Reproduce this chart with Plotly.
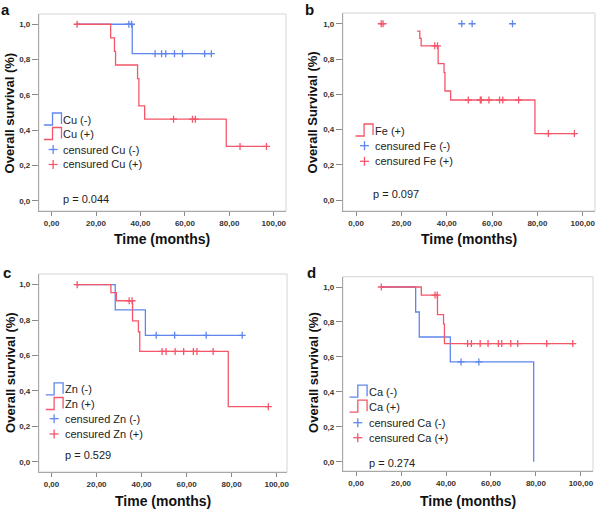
import plotly.graph_objects as go

# ---------------- data ----------------
# Panel a: Cu
cu_neg_t = [11.0, 36.3, 72.0]
cu_neg_s = [1.0, 0.833, 0.833]
cu_neg_cens_t = [34.8, 36.0, 46.6, 49.5, 51.4, 55.3, 58.9, 68.9, 71.9]
cu_neg_cens_s = [1.0, 1.0, 0.833, 0.833, 0.833, 0.833, 0.833, 0.833, 0.833]
cu_pos_t = [11.0, 26.6, 28.3, 28.8, 38.7, 39.3, 41.9, 78.6, 96.7]
cu_pos_s = [1.0, 0.923, 0.846, 0.769, 0.692, 0.538, 0.462, 0.308, 0.308]
cu_pos_cens_t = [11.5, 54.9, 63.4, 64.7, 84.8, 96.7]
cu_pos_cens_s = [1.0, 0.462, 0.462, 0.462, 0.308, 0.308]

# Panel b: Fe
fe_neg_cens_t = [46.6, 51.2, 69.0]
fe_neg_cens_s = [1.0, 1.0, 1.0]
fe_pos_t = [26.9, 28.1, 28.7, 36.2, 38.8, 39.2, 41.7, 78.9, 96.3]
fe_pos_s = [0.958, 0.917, 0.875, 0.774, 0.723, 0.619, 0.568, 0.378, 0.378]
fe_pos_cens_t = [11.1, 11.9, 34.7, 35.9, 49.5, 54.8, 55.2, 58.6, 63.3, 64.7, 71.7, 84.8, 96.3]
fe_pos_cens_s = [1.0, 1.0, 0.875, 0.875, 0.568, 0.568, 0.568, 0.568, 0.568, 0.568, 0.568, 0.378, 0.378]

# Panel c: Zn
zn_neg_t = [11.0, 28.3, 41.7, 84.7]
zn_neg_s = [1.0, 0.857, 0.714, 0.714]
zn_neg_cens_t = [46.5, 54.7, 68.7, 84.7]
zn_neg_cens_s = [0.714, 0.714, 0.714, 0.714]
zn_pos_t = [11.0, 26.4, 28.8, 36.0, 38.6, 39.2, 78.5, 96.3]
zn_pos_s = [1.0, 0.955, 0.909, 0.795, 0.734, 0.623, 0.311, 0.311]
zn_pos_cens_t = [11.4, 34.5, 35.8, 49.1, 50.9, 54.9, 58.7, 63.0, 64.6, 71.8, 96.3]
zn_pos_cens_s = [1.0, 0.909, 0.909, 0.623, 0.623, 0.623, 0.623, 0.623, 0.623, 0.623, 0.311]

# Panel d: Ca
ca_neg_t = [11.0, 26.5, 28.1, 41.9, 79.0]
ca_neg_s = [1.0, 0.857, 0.714, 0.571, 0.0]
ca_neg_cens_t = [46.7, 54.6]
ca_neg_cens_s = [0.571, 0.571]
ca_pos_t = [11.0, 29.0, 36.2, 38.9, 39.3, 96.4]
ca_pos_s = [1.0, 0.954, 0.842, 0.788, 0.676, 0.676]
ca_pos_cens_t = [11.2, 35.1, 36.1, 49.6, 51.3, 55.2, 58.7, 63.3, 64.8, 68.8, 71.9, 84.8, 96.4]
ca_pos_cens_s = [1.0, 0.954, 0.954, 0.676, 0.676, 0.676, 0.676, 0.676, 0.676, 0.676, 0.676, 0.676, 0.676]

p_values = ["p = 0.044", "p = 0.097", "p = 0.529", "p = 0.274"]
panel_letters = ["a", "b", "c", "d"]
y_titles = ["Overall survival (%)", "Overall Survival (%)", "Overall survival (%)", "Overall survival (%)"]
x_title = "Time (months)"
x_tick_vals = [0, 20, 40, 60, 80, 100]
x_tick_text = ["0,00", "20,00", "40,00", "60,00", "80,00", "100,00"]
y_tick_vals = [0.0, 0.2, 0.4, 0.6, 0.8, 1.0]
y_tick_text = ["0,0", "0,2", "0,4", "0,6", "0,8", "1,0"]

# ---------------- styling ----------------
W, H = 600, 510
BLUE = "#5f86ee"
RED = "#f4566a"
FONT = "Liberation Sans, Arial, sans-serif"
TXT = "#222222"


def X(px):
    return px / W


def Y(py):
    return 1 - py / H


panels = [
    dict(dom=(39, 287, 14, 211), xr=[-5.7, 105.5], yr=[-0.058, 1.058]),
    dict(dom=(344, 597, 13, 211), xr=[-5.84, 105.4], yr=[-0.061, 1.061]),
    dict(dom=(39, 288, 274, 472), xr=[-5.6, 104.6], yr=[-0.058, 1.06]),
    dict(dom=(344, 595, 276.7, 471), xr=[-5.9, 105.4], yr=[-0.053, 1.059]),
]

curves = [
    [(cu_neg_t, cu_neg_s, BLUE), (cu_pos_t, cu_pos_s, RED)],
    [(fe_pos_t, fe_pos_s, RED)],
    [(zn_neg_t, zn_neg_s, BLUE), (zn_pos_t, zn_pos_s, RED)],
    [(ca_neg_t, ca_neg_s, BLUE), (ca_pos_t, ca_pos_s, RED)],
]
censors = [
    [(cu_neg_cens_t, cu_neg_cens_s, BLUE), (cu_pos_cens_t, cu_pos_cens_s, RED)],
    [(fe_neg_cens_t, fe_neg_cens_s, BLUE), (fe_pos_cens_t, fe_pos_cens_s, RED)],
    [(zn_neg_cens_t, zn_neg_cens_s, BLUE), (zn_pos_cens_t, zn_pos_cens_s, RED)],
    [(ca_neg_cens_t, ca_neg_cens_s, BLUE), (ca_pos_cens_t, ca_pos_cens_s, RED)],
]

legends = [
    [("step", BLUE, "Cu (-)", 61.7, 119.5, 44, 52.7, 61.7),
     ("step", RED, "Cu (+)", 61.7, 134, 44, 52.7, 61.7),
     ("cross", BLUE, "censured Cu (-)", 61.7, 149.5, 53.3, None, None),
     ("cross", RED, "censured Cu (+)", 61.7, 164.5, 53.3, None, None)],
    [("step", RED, "Fe (+)", 374.3, 130.5, 356.7, 365.3, 374.3),
     ("cross", BLUE, "censured Fe (-)", 374.3, 145.7, 365.7, None, None),
     ("cross", RED, "censured Fe (+)", 374.3, 161.3, 365.7, None, None)],
    [("step", BLUE, "Zn (-)", 63.3, 389.3, 46, 54.3, 63.3),
     ("step", RED, "Zn (+)", 63.3, 404, 46, 54.3, 63.3),
     ("cross", BLUE, "censured Zn (-)", 63.3, 418.7, 54.3, None, None),
     ("cross", RED, "censured Zn (+)", 63.3, 434, 54.3, None, None)],
    [("step", BLUE, "Ca (-)", 368.3, 391.7, 350.7, 359, 368.3),
     ("step", RED, "Ca (+)", 368.3, 406.7, 350.7, 359, 368.3),
     ("cross", BLUE, "censured Ca (-)", 368.3, 422.7, 359, None, None),
     ("cross", RED, "censured Ca (+)", 368.3, 437.7, 359, None, None)],
]
p_pos = [(61.7, 199), (372.7, 194), (63.3, 455), (368.3, 463.3)]
letter_pos = [(6, 9), (311, 9), (7.5, 272), (312.5, 272)]
ytitle_pos = [(10, 112.5), (313.5, 112), (10, 372), (314, 372)]
xtitle_y = [239, 239, 500.5, 500.5]

fig = go.Figure()
layout = dict(
    width=W, height=H, margin=dict(l=0, r=0, t=0, b=0),
    paper_bgcolor="white", plot_bgcolor="white", showlegend=False,
    shapes=[], annotations=[],
)

for i, pnl in enumerate(panels):
    n = "" if i == 0 else str(i + 1)
    xa, ya = "x" + n, "y" + n
    x0, x1, yt, yb = pnl["dom"]
    layout["xaxis" + n] = dict(
        domain=[X(x0), X(x1)], range=pnl["xr"], anchor=ya,
        tickvals=x_tick_vals, ticktext=x_tick_text,
        ticks="outside", ticklen=4, tickwidth=1, tickcolor="#8a8a8a",
        showline=True, linecolor="#a8a8a8", linewidth=1, mirror=False,
        showgrid=False, zeroline=False,
        tickfont=dict(family=FONT, size=8, color="#333333", weight="bold"),
    )
    layout["yaxis" + n] = dict(
        domain=[Y(yb), Y(yt)], range=pnl["yr"], anchor=xa,
        tickvals=y_tick_vals, ticktext=y_tick_text,
        ticks="outside", ticklen=6, tickwidth=1, tickcolor="#8a8a8a",
        showline=True, linecolor="#a8a8a8", linewidth=1, mirror=False,
        showgrid=False, zeroline=False,
        tickfont=dict(family=FONT, size=8, color="#333333", weight="bold"),
    )
    layout["shapes"].append(dict(
        type="rect", xref=xa + " domain", yref=ya + " domain",
        x0=0, x1=1, y0=0, y1=1, line=dict(color="#d4d4d4", width=1),
        layer="below"))

    for t, s, c in curves[i]:
        fig.add_trace(go.Scatter(
            x=t, y=s, mode="lines", line=dict(color=c, width=1.3, shape="hv"),
            xaxis=xa, yaxis=ya, hoverinfo="skip"))
    for t, s, c in censors[i]:
        fig.add_trace(go.Scatter(
            x=t, y=s, mode="markers",
            marker=dict(symbol="cross-thin", size=5, line=dict(color=c, width=1.3)),
            xaxis=xa, yaxis=ya, hoverinfo="skip"))

    for kind, c, label, tx, cy, ix0, istep, ix1 in legends[i]:
        if kind == "step":
            lo, hi = cy + 5.5, cy - 6.5
            path = (f"M {X(ix0)} {Y(lo)} L {X(istep)} {Y(lo)} L {X(istep)} {Y(hi)} "
                    f"L {X(ix1)} {Y(hi)} L {X(ix1)} {Y(lo - 1)}")
            layout["shapes"].append(dict(
                type="path", xref="paper", yref="paper", path=path,
                line=dict(color=c, width=1.3)))
        else:
            layout["shapes"].append(dict(
                type="line", xref="paper", yref="paper",
                x0=X(ix0 - 4.5), x1=X(ix0 + 4.5), y0=Y(cy), y1=Y(cy),
                line=dict(color=c, width=1.3)))
            layout["shapes"].append(dict(
                type="line", xref="paper", yref="paper",
                x0=X(ix0), x1=X(ix0), y0=Y(cy - 4.5), y1=Y(cy + 4.5),
                line=dict(color=c, width=1.3)))
        layout["annotations"].append(dict(
            x=X(tx), y=Y(cy), xref="paper", yref="paper", text=label,
            showarrow=False, xanchor="left", yanchor="middle",
            font=dict(family=FONT, size=11, color=TXT)))

    px_, py_ = p_pos[i]
    layout["annotations"].append(dict(
        x=X(px_), y=Y(py_), xref="paper", yref="paper", text=p_values[i],
        showarrow=False, xanchor="left", yanchor="middle",
        font=dict(family=FONT, size=11, color=TXT)))
    lx, ly = letter_pos[i]
    layout["annotations"].append(dict(
        x=X(lx), y=Y(ly), xref="paper", yref="paper", text=panel_letters[i],
        showarrow=False, xanchor="center", yanchor="middle",
        font=dict(family=FONT, size=15, color="#111111", weight="bold")))
    tx_, ty_ = ytitle_pos[i]
    layout["annotations"].append(dict(
        x=X(tx_), y=Y(ty_), xref="paper", yref="paper", text=y_titles[i],
        showarrow=False, xanchor="center", yanchor="middle", textangle=-90,
        font=dict(family=FONT, size=13, color="#111111", weight="bold")))
    layout["annotations"].append(dict(
        x=X((x0 + x1) / 2), y=Y(xtitle_y[i]), xref="paper", yref="paper",
        text=x_title, showarrow=False, xanchor="center", yanchor="middle",
        font=dict(family=FONT, size=14, color="#111111", weight="bold")))

fig.update_layout(**layout)
fig.write_html("out.html", config={"displayModeBar": False, "staticPlot": True})

# remove the default page margin so the 600x510 figure fills the window exactly
with open("out.html", "r", encoding="utf-8") as f:
    html = f.read()
html = html.replace("<body>", '<body style="margin:0;padding:0;overflow:hidden">', 1)
with open("out.html", "w", encoding="utf-8") as f:
    f.write(html)
